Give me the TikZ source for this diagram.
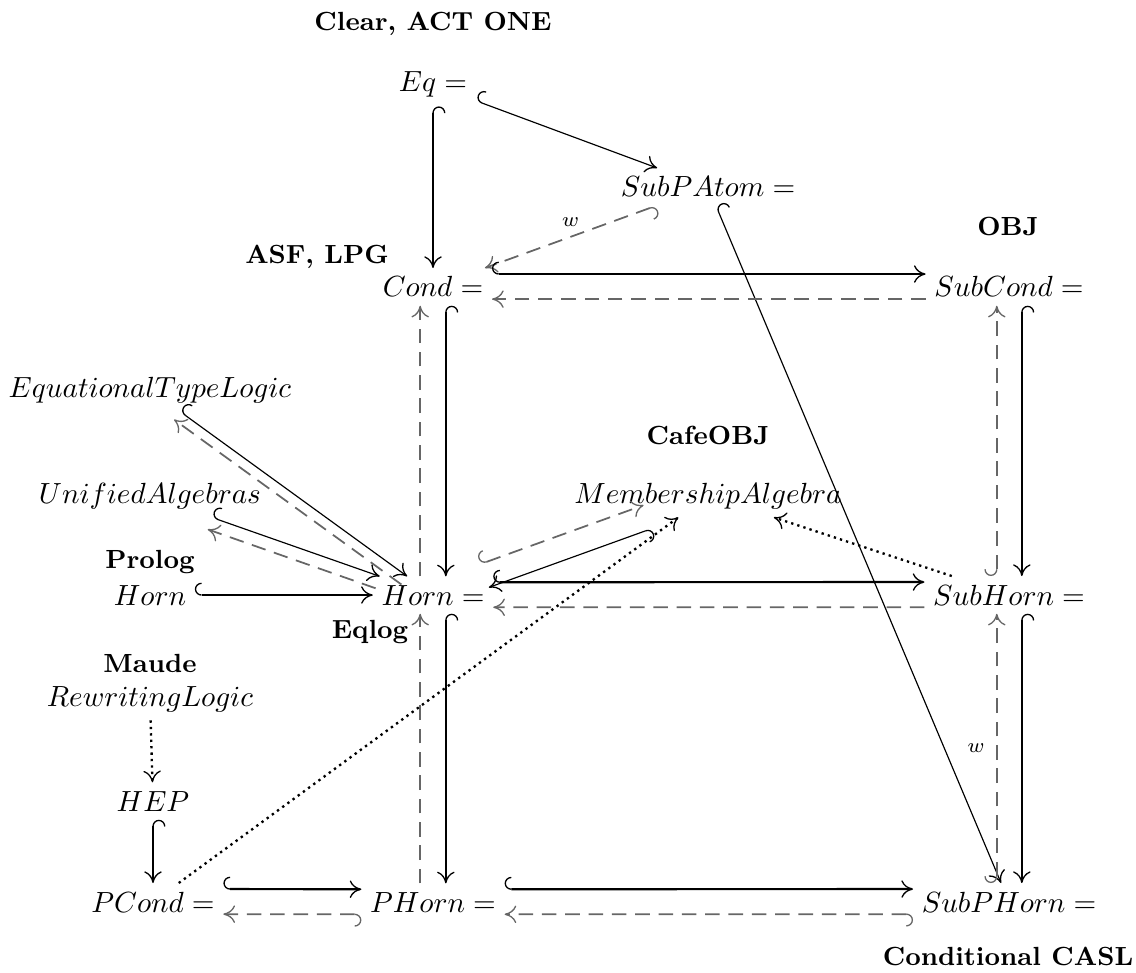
\documentclass[tikz,border=0pt]{standalone}
\usetikzlibrary{arrows.meta}
\tikzset{
  obj/.style={anchor=base, inner sep=0pt, outer sep=3pt},
  sys/.style={anchor=base, inner sep=0pt, font=\fontsize{9}{11}\selectfont\bfseries},
  hk/.style={arrows={Hooks[arc=180,length=2.3pt,width=8.5pt,right,line width=0.45pt]-Computer Modern Rightarrow[length=4pt,width=6pt,line width=0.45pt]}},
  tip/.style={arrows={-Computer Modern Rightarrow[length=4pt,width=6pt,line width=0.45pt]}},
  thk/.style={line width=0.75pt},
  thn/.style={line width=0.4pt},
  dsh/.style={line width=0.6pt, draw=black!60, dash pattern=on 5pt off 3pt},
  dots/.style={line width=0.8pt, dash pattern=on 0.8pt off 1.4pt}
}
\begin{document}
\begin{tikzpicture}[x=0.343pt, y=-0.343pt]
\useasboundingbox (0,0) rectangle (1136,972);
		%Systems
		\node[sys] (clear) at (433,31) {Clear, ACT ONE};
		\node[sys] (asf) at (317,264) {ASF, LPG};
		\node[sys] (obj) at (1008,236) {OBJ};
		\node[sys] (cafe) at (708,444) {CafeOBJ};
		\node[sys] (prolog) at (150,568) {Prolog};
		\node[sys] (eqlog) at (370,638) {Eqlog};
		\node[sys] (maude) at (150,672) {Maude};
		\node[sys] (casl) at (1008,965) {Conditional CASL};
		%Institutions
		\node[obj] (Eq) at (433,92) {$Eq =$};
		\node[obj] (SubPAtom) at (708,197) {$SubPAtom =$};
		\node[obj] (Cond) at (433,297) {$Cond =$};
		\node[obj] (SubCond) at (1009,297) {$SubCond =$};
		\node[obj] (ETL) at (150,397) {$EquationalTypeLogic$};
		\node[obj] (UA) at (150,503) {$UnifiedAlgebras$};
		\node[obj] (MA) at (708,503) {$MembershipAlgebra$};
		\node[obj] (Horn) at (150,605) {$Horn$};
		\node[obj] (HornEq) at (433,605) {$Horn =$};
		\node[obj] (SubHorn) at (1009,605) {$SubHorn =$};
		\node[obj] (RL) at (150,706) {$RewritingLogic$};
		\node[obj] (HEP) at (153,811) {$HEP$};
		\node[obj] (PCond) at (153,912) {$PCond =$};
		\node[obj] (PHorn) at (433,912) {$PHorn =$};
		\node[obj] (SubPHorn) at (1009,912) {$SubPHorn =$};
		%Top
		\draw[thk,hk] (Eq) -- (Cond);
		\draw[thn,hk] (Eq) -- (SubPAtom);
		\draw[dsh,hk] (SubPAtom) -- (Cond) node[midway,above=0pt] {$\scriptstyle w$};
		\draw[thn,hk] (SubPAtom) -- (SubPHorn);
		%Cube
		\draw[thk,hk] ([yshift=4.4pt]Cond.east) -- ([yshift=4.4pt]SubCond.west);
		\draw[dsh,tip] ([yshift=-4.2pt]SubCond.west) -- ([yshift=-4.2pt]Cond.east);
		\draw[thk,hk] ([yshift=4.4pt]HornEq.east) -- ([yshift=4.4pt]SubHorn.west);
		\draw[dsh,tip] ([yshift=-4.2pt]SubHorn.west) -- ([yshift=-4.2pt]HornEq.east);
		\draw[thk,hk] ([yshift=4.4pt]PCond.east) -- ([yshift=4.4pt]PHorn.west);
		\draw[dsh,hk] ([yshift=-4.2pt]PHorn.west) -- ([yshift=-4.2pt]PCond.east);
		\draw[thk,hk] ([yshift=4.4pt]PHorn.east) -- ([yshift=4.4pt]SubPHorn.west);
		\draw[dsh,hk] ([yshift=-4.2pt]SubPHorn.west) -- ([yshift=-4.2pt]PHorn.east);
		\draw[thk,hk] ([xshift=4.4pt]Cond.south) -- ([xshift=4.4pt]HornEq.north);
		\draw[dsh,tip] ([xshift=-4.4pt]HornEq.north) -- ([xshift=-4.4pt]Cond.south);
		\draw[thk,hk] ([xshift=4.4pt]HornEq.south) -- ([xshift=4.4pt]PHorn.north);
		\draw[dsh,tip] ([xshift=-4.4pt]PHorn.north) -- ([xshift=-4.4pt]HornEq.south);
		\draw[thk,hk] ([xshift=4.4pt]SubCond.south) -- ([xshift=4.4pt]SubHorn.north);
		\draw[dsh,hk] ([xshift=-4.2pt]SubHorn.north) -- ([xshift=-4.2pt]SubCond.south);
		\draw[thk,hk] ([xshift=4.4pt]SubHorn.south) -- ([xshift=4.4pt]SubPHorn.north);
		\draw[dsh,hk] ([xshift=-4.2pt]SubPHorn.north) -- ([xshift=-4.2pt]SubHorn.south) node[midway,left=0.5pt] {$\scriptstyle w$};
		%Left side
		\draw[thn,hk] (ETL) -- (HornEq);
		\draw[dsh,tip,transform canvas={shift={(-2pt,-2.8pt)}}] (HornEq) -- (ETL);
		\draw[thn,hk] (UA) -- (HornEq);
		\draw[dsh,tip,transform canvas={shift={(-1.4pt,-4.1pt)}}] (HornEq) -- (UA);
		\draw[thk,hk] (Horn) -- (HornEq);
		\draw[dots,tip] (RL) -- (HEP);
		\draw[thk,hk] (HEP) -- (PCond);
		%Membership algebra
		\draw[dsh,hk,transform canvas={shift={(-1.5pt,4.2pt)}}] (HornEq) -- (MA);
		\draw[thn,hk,transform canvas={shift={(1.4pt,-3.8pt)}}] (MA) -- (HornEq);
		\draw[dots,tip] (PCond) -- (MA);
		\draw[dots,tip] (SubHorn) -- (MA);
\end{tikzpicture}
\end{document}
